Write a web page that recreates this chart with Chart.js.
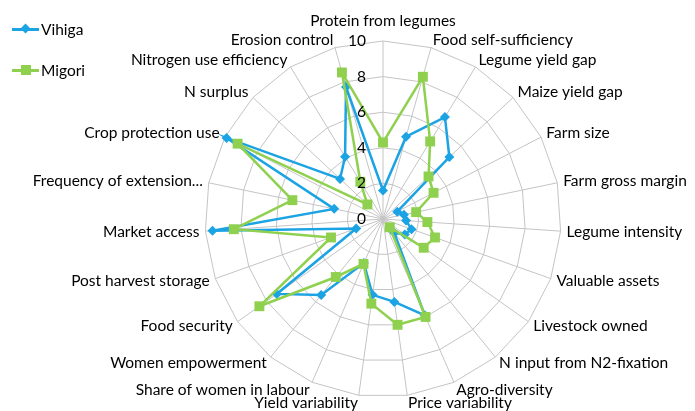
<!DOCTYPE html>
<html>
<head>
<meta charset="utf-8">
<script src="https://cdn.jsdelivr.net/npm/chart.js@4/dist/chart.umd.min.js"></script>
<style>
  body { margin: 0; background: #fff; font-family: Lato, sans-serif; }
  #wrap { position: relative; width: 695px; height: 411px; overflow: hidden; }
  .leg { position: absolute; left: 12px; height: 20px; font-size: 15.5px; color: #000; }
  .leg .ln { position: absolute; left: 0; top: 9px; width: 27px; height: 2.5px; }
  .leg .mk { position: absolute; }
  .leg span.tx { position: absolute; left: 29px; top: 0; line-height: 20px; white-space: nowrap; }
</style>
</head>
<body>
<div id="wrap">
  <canvas id="canvas" width="695" height="411"></canvas>
  <div class="leg" style="top:19px">
    <div class="ln" style="background:#1ba3e4"></div>
    <div class="mk" style="left:10px;top:6px;width:7px;height:7px;background:#1ba3e4;transform:rotate(45deg)"></div>
    <span class="tx">Vihiga</span>
  </div>
  <div class="leg" style="top:60px">
    <div class="ln" style="background:#8fd14f"></div>
    <div class="mk" style="left:9px;top:5px;width:10px;height:10px;background:#8fd14f"></div>
    <span class="tx">Migori</span>
  </div>
</div>
<script>
const categories = [
  'Protein from legumes', 'Food self-sufficiency', 'Legume yield gap', 'Maize yield gap',
  'Farm size', 'Farm gross margin', 'Legume intensity', 'Valuable assets', 'Livestock owned',
  'N input from N2-fixation', 'Agro-diversity', 'Price variability', 'Yield variability',
  'Share of women in labour', 'Women empowerment', 'Food security', 'Post harvest storage',
  'Market access', 'Frequency of extension...', 'Crop protection use', 'N surplus',
  'Nitrogen use efficiency', 'Erosion control'
];
const vihiga = [1.6, 4.8, 6.7, 5.1, 0.9, 1.2, 1.3, 1.7, 1.5, 1.0, 5.9, 4.7, 4.3, 2.7, 5.5, 7.3, 1.6, 9.6, 2.8, 9.9, 3.3, 4.1, 7.7];
const migori = [4.3, 8.3, 5.1, 3.5, 3.2, 1.9, 2.5, 3.1, 2.8, 0.6, 6.0, 6.0, 4.8, 2.75, 4.2, 8.5, 3.1, 8.4, 5.2, 9.2, 1.2, 2.45, 8.55];
const tickValues = [0, 2, 4, 6, 8, 10];

const FONT = '15.5px Lato, sans-serif';

// axis texts drawn by hand so they sit like the Excel original
const radarText = {
  id: 'radarText',
  afterDatasetsDraw(chart) {
    const scale = chart.scales.r;
    const c = chart.ctx;
    const R = scale.drawingArea;
    c.save();
    c.font = FONT;
    c.fillStyle = '#000';
    c.textBaseline = 'middle';
    // tick labels left of the vertical axis
    c.textAlign = 'right';
    tickValues.forEach((v) => {
      const d = scale.getDistanceFromCenterForValue(v);
      c.fillText(String(v), scale.xCenter - 17, scale.yCenter - d);
    });
    // category labels
    categories.forEach((lab, i) => {
      const a = scale.getIndexAngle(i);
      const s = Math.sin(a), co = Math.cos(a);
      let x = scale.xCenter + (R + 6) * s;
      let y = scale.yCenter - R * co - 8 * co;
      if (Math.abs(s) < 0.05) {
        c.textAlign = 'center';
        y -= 12;
      } else {
        c.textAlign = s > 0 ? 'left' : 'right';
      }
      c.fillText(lab, x, y);
    });
    c.restore();
  }
};

new Chart(document.getElementById('canvas'), {
  type: 'radar',
  data: {
    labels: categories,
    datasets: [
      {
        label: 'Vihiga',
        data: vihiga,
        order: 2,
        borderColor: '#1ba3e4',
        backgroundColor: '#1ba3e4',
        borderWidth: 2.5,
        fill: false,
        pointStyle: 'rectRot',
        pointRadius: 5,
        pointBorderWidth: 0,
      },
      {
        label: 'Migori',
        data: migori,
        order: 1,
        borderColor: '#8fd14f',
        backgroundColor: '#8fd14f',
        borderWidth: 2.5,
        fill: false,
        pointStyle: 'rect',
        pointRadius: 7,
        pointBorderWidth: 0,
      },
    ],
  },
  options: {
    responsive: false,
    animation: false,
    layout: { padding: { left: 205, top: 41, right: 134, bottom: 14 } },
    plugins: {
      legend: { display: false },
      tooltip: { enabled: false },
    },
    elements: { line: { tension: 0 } },
    scales: {
      r: {
        min: 0,
        max: 10,
        ticks: { display: false, stepSize: 2 },
        pointLabels: { display: false },
        grid: { color: '#c4c4c4', lineWidth: 1 },
        angleLines: { color: '#c4c4c4', lineWidth: 1 },
      },
    },
  },
  plugins: [radarText],
});
</script>
</body>
</html>
